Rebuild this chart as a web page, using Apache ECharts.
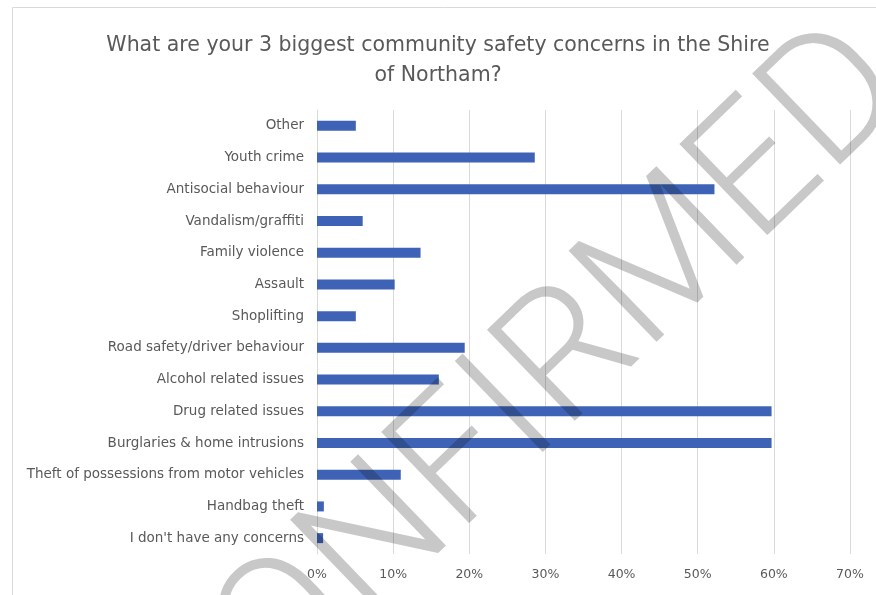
<!DOCTYPE html>
<html>
<head>
<meta charset="utf-8">
<script src="https://cdn.jsdelivr.net/npm/echarts@6/dist/echarts.min.js"></script>
<style>
  html, body { margin: 0; padding: 0; background: #ffffff; }
  #chart { width: 876px; height: 595px; }
</style>
</head>
<body>
<div id="chart"></div>
<script>
// Survey question and answer categories (top to bottom)
const titleLines = [
  'What are your 3 biggest community safety concerns in the Shire',
  'of Northam?'
];
const categories = [
  'Other',
  'Youth crime',
  'Antisocial behaviour',
  'Vandalism/graffiti',
  'Family violence',
  'Assault',
  'Shoplifting',
  'Road safety/driver behaviour',
  'Alcohol related issues',
  'Drug related issues',
  'Burglaries & home intrusions',
  'Theft of possessions from motor vehicles',
  'Handbag theft',
  "I don't have any concerns"
];
// Share of respondents (%) naming each concern
const shares = [5.1, 28.6, 52.2, 6.0, 13.6, 10.2, 5.1, 19.4, 16.0, 59.7, 59.7, 11.0, 0.9, 0.8];
// Percentage axis
const axisMax = 70;
const axisStep = 10;
const stampText = 'UNCONFIRMED';

const chart = echarts.init(document.getElementById('chart'));
const textColor = '#595959';
const fontFamily = '"DejaVu Sans", Verdana, sans-serif';

chart.setOption({
  backgroundColor: '#ffffff',
  animation: false,
  title: {
    text: titleLines.join('\n'),
    left: 'center',
    top: 26,
    textStyle: {
      color: textColor,
      fontFamily: fontFamily,
      fontWeight: 'normal',
      fontSize: 20.5,
      lineHeight: 30
    }
  },
  grid: { left: 317, right: 26, top: 110, bottom: 41, containLabel: false },
  xAxis: {
    type: 'value',
    min: 0,
    max: axisMax,
    interval: axisStep,
    axisLine: { show: false },
    axisTick: { show: false },
    splitLine: { show: true, lineStyle: { color: '#d9d9d9', width: 1 } },
    axisLabel: {
      formatter: '{value}%',
      color: textColor,
      fontFamily: fontFamily,
      fontSize: 12.5,
      margin: 14
    }
  },
  yAxis: {
    type: 'category',
    data: categories,
    inverse: true,
    axisLine: { show: true, lineStyle: { color: '#d9d9d9', width: 1 } },
    axisTick: { show: false },
    axisLabel: {
      color: textColor,
      fontFamily: fontFamily,
      fontSize: 13.5,
      margin: 13
    }
  },
  series: [{
    type: 'bar',
    data: shares,
    barWidth: 10,
    itemStyle: { color: '#3e63b6' },
    z: 3
  }],
  graphic: [
    {
      type: 'rect',
      shape: { x: 12.5, y: 7.5, width: 880, height: 600 },
      style: { fill: 'none', stroke: '#d9d9d9', lineWidth: 1 },
      z: 0,
      silent: true
    },
    {
      type: 'text',
      x: 436,
      y: 493,
      rotation: 44 * Math.PI / 180,
      style: {
        text: stampText,
        fontFamily: 'Roboto, Lato, sans-serif',
        fontWeight: 300,
        fontSize: 178,
        fill: '#c8c8c8',
        align: 'center',
        verticalAlign: 'middle',
        blend: 'multiply'
      },
      z: 100,
      silent: true
    }
  ]
});

// Multiply the stamp over the plot so the bars darken beneath it
const zr = chart.getZr();
zr.storage.getDisplayList(true).forEach(function (el) {
  if (el.style && el.style.text === stampText) {
    el.style.blend = 'multiply';
    el.markRedraw();
  }
});
zr.refreshImmediately();
</script>
</body>
</html>
